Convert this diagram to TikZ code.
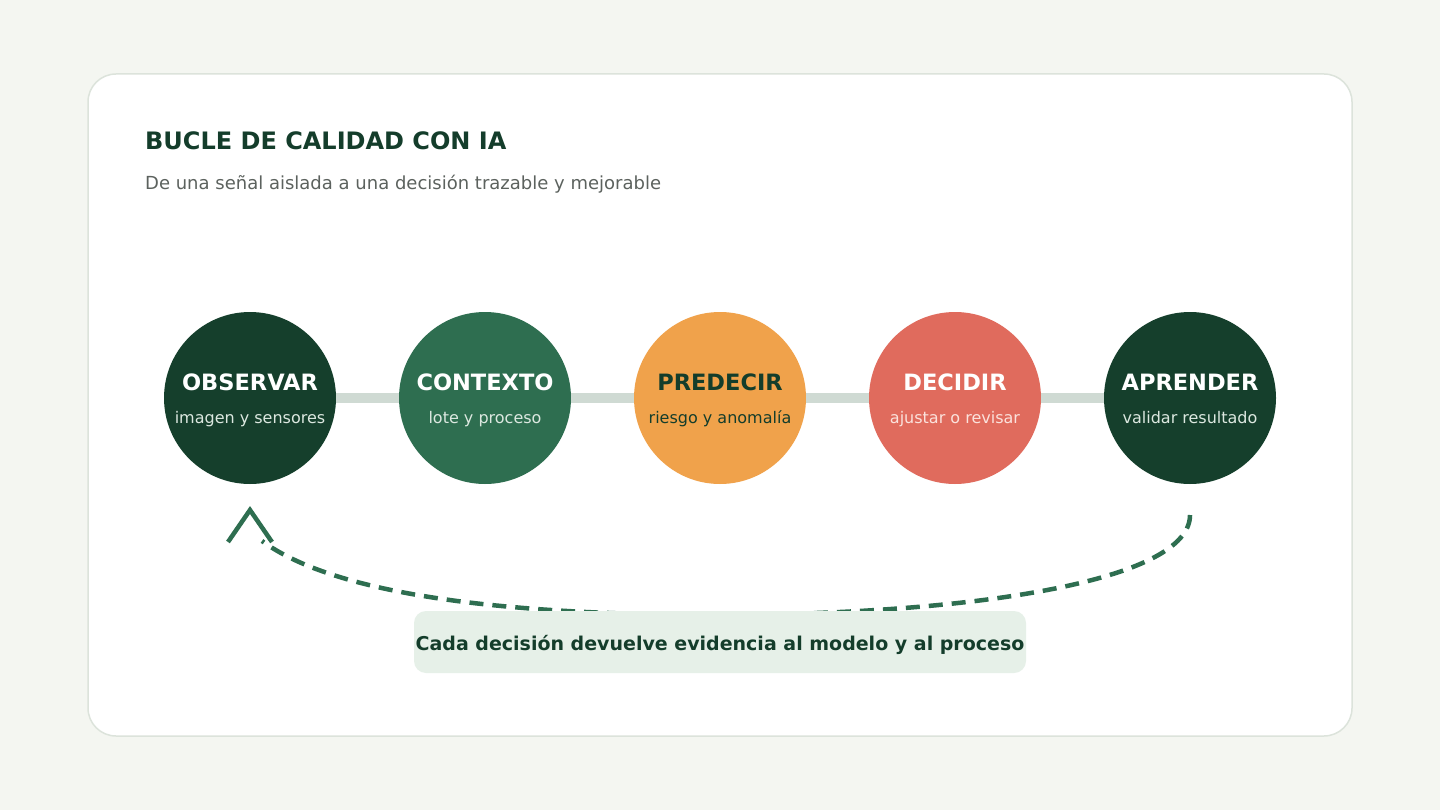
\documentclass[tikz,border=0pt]{standalone}
\usepackage{fontspec}
\setmainfont{DejaVu Sans}
\definecolor{bg}{HTML}{F4F6F1}
\definecolor{cardline}{HTML}{DCE3DB}
\definecolor{ink}{HTML}{143D2B}
\definecolor{subink}{HTML}{5C625E}
\definecolor{track}{HTML}{CFDAD3}
\definecolor{cdark}{HTML}{153F2C}
\definecolor{cmid}{HTML}{2E6E50}
\definecolor{corange}{HTML}{F0A24B}
\definecolor{cred}{HTML}{E06B5D}
\definecolor{pill}{HTML}{E6F0E8}
\definecolor{lightsub}{HTML}{DCE8E0}
\definecolor{redsub}{HTML}{FBE2DC}
\tikzset{
  stage/.style={circle, minimum size=172pt, inner sep=0pt, draw=none},
  stagetitle/.style={anchor=base, font=\fontsize{22.5}{26}\selectfont\bfseries},
  stagesub/.style={anchor=base, font=\fontsize{16}{19}\selectfont},
}
\begin{document}
\begin{tikzpicture}[x=1pt,y=-1pt]
\fill[bg] (0,0) rectangle (1440,810);
\useasboundingbox (0,0) rectangle (1440,810);
\draw[fill=white, draw=cardline, line width=1.5pt, rounded corners=28pt] (88,74) rectangle (1352,736);

\node[anchor=base west, text=ink, font=\fontsize{24}{28}\selectfont\bfseries, inner sep=0pt] (title) at (145,150) {BUCLE DE CALIDAD CON IA};
\node[anchor=base west, text=subink, font=\fontsize{18}{21}\selectfont, inner sep=0pt] (subtitle) at (145,190) {De una señal aislada a una decisión trazable y mejorable};

\node[stage, fill=cdark] (s1) at (250,398) {};
\node[stage, fill=cmid] (s2) at (485,398) {};
\node[stage, fill=corange] (s3) at (720,398) {};
\node[stage, fill=cred] (s4) at (955,398) {};
\node[stage, fill=cdark] (s5) at (1190,398) {};

\draw[track, line width=10pt] (s1.east) -- (s2.west);
\draw[track, line width=10pt] (s2.east) -- (s3.west);
\draw[track, line width=10pt] (s3.east) -- (s4.west);
\draw[track, line width=10pt] (s4.east) -- (s5.west);

\node[stagetitle, text=white] (t1) at (250,390) {OBSERVAR};
\node[stagesub, text=lightsub] (u1) at (250,423) {imagen y sensores};
\node[stagetitle, text=white] (t2) at (485,390) {CONTEXTO};
\node[stagesub, text=lightsub] (u2) at (485,423) {lote y proceso};
\node[stagetitle, text=ink] (t3) at (720,390) {PREDECIR};
\node[stagesub, text=ink] (u3) at (720,423) {riesgo y anomalía};
\node[stagetitle, text=white] (t4) at (955,390) {DECIDIR};
\node[stagesub, text=redsub] (u4) at (955,423) {ajustar o revisar};
\node[stagetitle, text=white] (t5) at (1190,390) {APRENDER};
\node[stagesub, text=lightsub] (u5) at (1190,423) {validar resultado};

\coordinate (loopstart) at (1190,515);
\coordinate (loopmid) at (720,615);
\coordinate (loopend) at (262,541);
\coordinate (tipapex) at (250,510);
\draw[cmid, line width=4.5pt, dash pattern=on 14pt off 9pt]
  (loopstart) .. controls (1190,580) and (980,614) .. (loopmid)
  .. controls (520,615) and (340,598) .. (loopend);
\draw[cmid, line width=4.5pt, miter limit=10] ([shift={(-22,32)}]tipapex) -- (tipapex) -- ([shift={(22,32)}]tipapex);

\node[fill=pill, rounded corners=12pt, minimum width=612pt, minimum height=62pt, inner sep=0pt] (note) at (720,642) {};
\node[anchor=base, text=ink, font=\fontsize{19}{22}\selectfont\bfseries, inner sep=0pt] (notetext) at (720,650) {Cada decisión devuelve evidencia al modelo y al proceso};
\end{tikzpicture}
\end{document}
